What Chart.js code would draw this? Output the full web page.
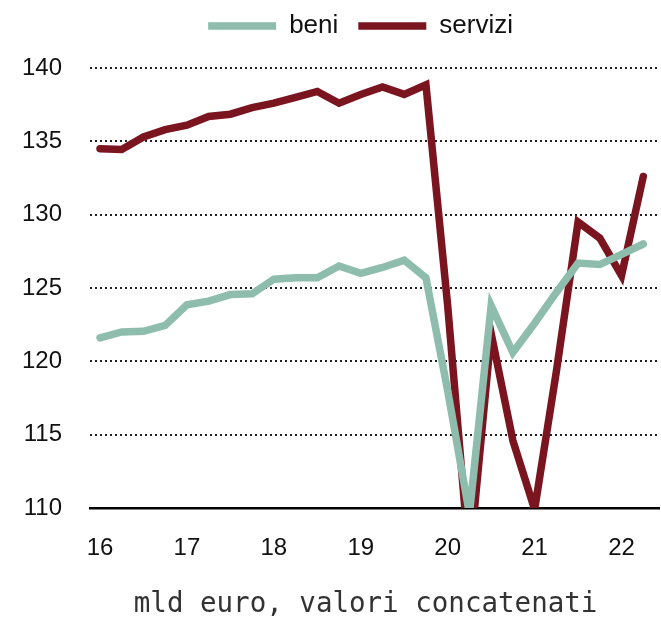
<!DOCTYPE html>
<html>
<head>
<meta charset="utf-8">
<script src="https://cdn.jsdelivr.net/npm/chart.js@4.4.1/dist/chart.umd.min.js"></script>
<style>
  html, body { margin: 0; padding: 0; background: #fff; }
  #wrap { width: 661px; height: 619px; position: relative; }
</style>
</head>
<body>
<div id="wrap"><canvas id="chart"></canvas></div>
<script>
// quarters 2016 T1 .. 2022 T2
const quarters = [
  "2016T1","2016T2","2016T3","2016T4",
  "2017T1","2017T2","2017T3","2017T4",
  "2018T1","2018T2","2018T3","2018T4",
  "2019T1","2019T2","2019T3","2019T4",
  "2020T1","2020T2","2020T3","2020T4",
  "2021T1","2021T2","2021T3","2021T4",
  "2022T1","2022T2"
];

const beni = [
  121.6, 122.0, 122.05, 122.45,
  123.85, 124.1, 124.55, 124.6,
  125.6, 125.7, 125.7, 126.5,
  126.0, 126.4, 126.9, 125.7,
  118.0, 109.6, 123.8, 120.6,
  122.6, 124.7, 126.7, 126.6,
  127.3, 128.0
];

const servizi = [
  134.5, 134.45, 135.3, 135.8,
  136.1, 136.7, 136.85, 137.3,
  137.6, 138.0, 138.4, 137.6,
  138.2, 138.7, 138.2, 138.85,
  123.8, 106.3, 121.9, 114.6,
  109.9, 119.3, 129.5, 128.4,
  125.85, 132.6
];

// year ticks (first quarter of each year)
const yearTicks = [0, 4, 8, 12, 16, 20, 24];
const yearLabels = ["16", "17", "18", "19", "20", "21", "22"];

const yTicks = [110, 115, 120, 125, 130, 135, 140];

const toXY = arr => arr.map((v, i) => ({ x: i, y: v }));

// move legend up / left and the bottom title a bit left
const nudge = {
  id: "nudge",
  afterLayout(chart) {
    const lg = chart.legend;
    lg.top -= 19; lg.bottom -= 19;
    lg.left -= 14; lg.right -= 14;
    const t = chart.titleBlock;
    t.left -= 9; t.right -= 9;
  }
};

const sans = "'Liberation Sans', Arial, sans-serif";

chart = new Chart(document.getElementById("chart"), {
  type: "line",
  data: {
    labels: quarters,
    datasets: [
      {
        label: "beni",
        data: toXY(beni),
        borderColor: "#8ebdae",
        backgroundColor: "#8ebdae",
        borderWidth: 7.5,
        borderCapStyle: "round",
        pointRadius: 0,
        tension: 0
      },
      {
        label: "servizi",
        data: toXY(servizi),
        borderColor: "#7a1520",
        backgroundColor: "#7a1520",
        borderWidth: 7.5,
        borderCapStyle: "round",
        pointRadius: 0,
        tension: 0
      }
    ]
  },
  plugins: [nudge],
  options: {
    responsive: true,
    maintainAspectRatio: false,
    animation: false,
    layout: { padding: { left: 0, right: 0, top: 12, bottom: 0 } },
    plugins: {
      tooltip: { enabled: false },
      legend: {
        position: "top",
        fullSize: false,
        labels: {
          usePointStyle: true,
          pointStyleWidth: 68,
          pointStyle: "line",
          boxHeight: 7,
          padding: 20,
          color: "#111",
          font: { family: sans, size: 26 }
        }
      },
      title: {
        display: true,
        position: "bottom",
        fullSize: false,
        text: "mld euro, valori concatenati",
        color: "#333",
        font: { family: "'DejaVu Sans Mono', 'Liberation Mono', monospace", size: 27.5, weight: "normal", lineHeight: 1 },
        padding: { top: 0, bottom: 0 }
      }
    },
    scales: {
      x: {
        type: "linear",
        min: -0.46,
        max: 25.73,
        afterBuildTicks: s => { s.ticks = yearTicks.map(v => ({ value: v })); },
        afterFit: s => { s.height = 83.5; },
        ticks: {
          autoSkip: false,
          maxRotation: 0,
          padding: 26,
          color: "#111",
          font: { family: sans, size: 24 },
          callback: v => yearLabels[yearTicks.indexOf(v)]
        },
        grid: { display: false, drawTicks: false },
        border: { display: true, color: "#000", width: 2.5 }
      },
      y: {
        min: 110,
        max: 140,
        afterBuildTicks: s => { s.ticks = yTicks.map(v => ({ value: v })); },
        afterFit: s => { s.width = 90; },
        ticks: {
          padding: 28,
          color: "#111",
          font: { family: sans, size: 24 }
        },
        grid: {
          drawTicks: false,
          color: "#222",
          lineWidth: 2
        },
        border: { display: false, dash: [2, 3] }
      }
    }
  }
});
</script>
</body>
</html>
